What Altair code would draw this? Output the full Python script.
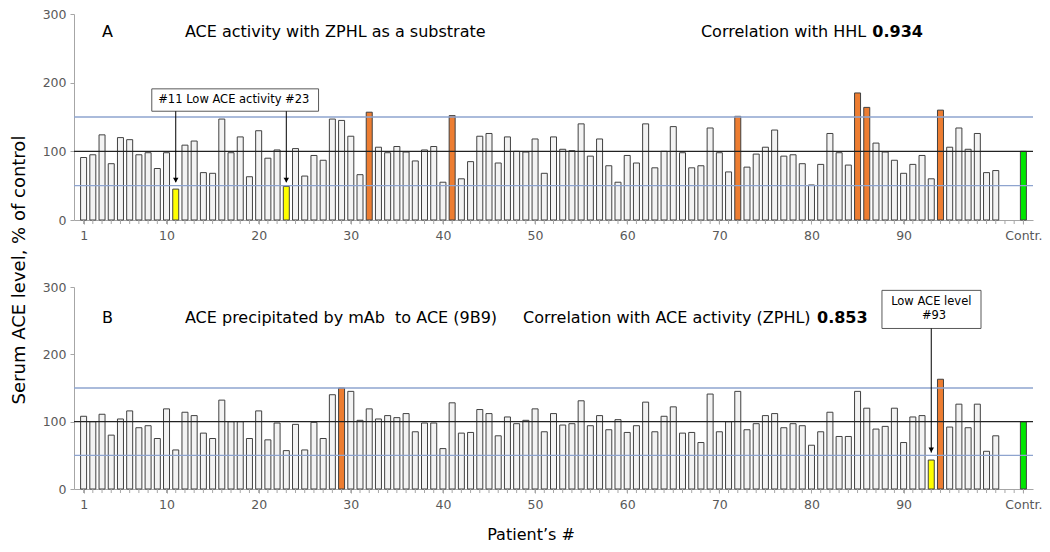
import altair as alt
import pandas as pd

FONT = "DejaVu Sans"

# ---------------- data ----------------
positions = list(range(1, 101)) + [103]          # 100 patients + control
tick_positions = list(range(1, 104))
label_positions = [1, 10, 20, 30, 40, 50, 60, 70, 80, 90, 103]

ace_zphl = [91, 95, 124, 82, 120, 117, 95, 98, 75, 98,
            45, 109, 115, 69, 68, 147, 98, 121, 63, 130,
            90, 102, 49, 104, 64, 94, 87, 147, 145, 122,
            66, 157, 106, 98, 107, 99, 86, 102, 107, 55,
            152, 60, 85, 122, 126, 83, 121, 100, 99, 118,
            68, 121, 103, 101, 140, 93, 118, 79, 55, 94,
            83, 140, 76, 100, 136, 98, 76, 79, 134, 98,
            70, 151, 77, 96, 106, 131, 93, 95, 82, 51,
            81, 126, 98, 80, 185, 164, 112, 99, 87, 68,
            81, 94, 60, 160, 106, 134, 103, 126, 69, 72,
            100]
ace_mab = [108, 100, 111, 80, 104, 116, 91, 94, 75, 119,
           58, 114, 109, 83, 75, 132, 100, 100, 75, 116,
           73, 98, 57, 96, 58, 99, 75, 140, 150, 145,
           102, 119, 104, 109, 106, 112, 85, 98, 98, 60,
           128, 83, 84, 118, 112, 79, 107, 97, 102, 119,
           85, 112, 95, 97, 131, 94, 109, 88, 103, 84,
           94, 129, 85, 108, 122, 83, 84, 69, 141, 85,
           100, 145, 88, 97, 109, 112, 91, 97, 94, 65,
           85, 114, 78, 78, 145, 120, 89, 93, 120, 69,
           107, 109, 43, 163, 92, 126, 91, 126, 56, 79,
           100]

high_a = [32, 41, 72, 85, 86, 94]
low_a = [11, 23]
high_b = [29, 94]
low_b = [93]

ref_blue = [50, 150]
ref_black = [100]

kinds = ["normal", "high", "low", "control"]
kind_colors = ["#f3f3f3", "#ed7d31", "#ffff00", "#00e600"]

xscale = alt.Scale(domain=[0.5, 103.5], nice=False, zero=False)
yscale = alt.Scale(domain=[0, 300], nice=False)

label_expr = "datum.value == 103 ? 'Contr.' : datum.label"

x_axis = alt.Axis(values=label_positions, labelExpr=label_expr, labelOverlap=False,
                  labelFlush=False, grid=False, tickSize=4, tickColor="#a6a6a6",
                  domainColor="#a6a6a6", labelColor="#595959", labelFont=FONT,
                  labelFontSize=12.5, labelPadding=5, title=None)
y_axis = alt.Axis(values=[0, 50, 100, 150, 200, 250, 300], grid=False, tickSize=4,
                  tickColor="#a6a6a6", domainColor="#a6a6a6", labelColor="#595959",
                  labelFont=FONT, labelFontSize=12.5, labelPadding=4, title=None)


def kinds_for(high, low):
    out = []
    for p in positions:
        if p == 103:
            out.append("control")
        elif p in high:
            out.append("high")
        elif p in low:
            out.append("low")
        else:
            out.append("normal")
    return out


def text_layer(x, y, txt, size=16, weight="normal", align="left", baseline="alphabetic"):
    d = pd.DataFrame({"x": [x], "y": [y], "t": [txt]})
    return alt.Chart(d).mark_text(font=FONT, fontSize=size, fontWeight=weight, align=align,
                                  baseline=baseline, color="#000000").encode(
        x=alt.X("x:Q", scale=xscale, title=None),
        y=alt.Y("y:Q", scale=yscale, title=None),
        text="t:N")


def box_layer(x1, x2, y1, y2):
    d = pd.DataFrame({"x": [x1], "x2": [x2], "y": [y1], "y2": [y2]})
    return alt.Chart(d).mark_rect(fill="white", stroke="#595959", strokeWidth=1).encode(
        x=alt.X("x:Q", scale=xscale, title=None), x2="x2:Q",
        y=alt.Y("y:Q", scale=yscale, title=None), y2="y2:Q")


def arrow_layers(xs, y_from, y_to, y_head):
    d = pd.DataFrame({"x": xs, "y": [y_from] * len(xs), "y2": [y_to] * len(xs),
                      "yh": [y_head] * len(xs)})
    line = alt.Chart(d).mark_rule(color="#000000", strokeWidth=1).encode(
        x=alt.X("x:Q", scale=xscale, title=None),
        y=alt.Y("y:Q", scale=yscale, title=None), y2="y2:Q")
    head = alt.Chart(d).mark_point(shape="triangle-down", filled=True, size=30,
                                   color="#000000", opacity=1).encode(
        x=alt.X("x:Q", scale=xscale, title=None),
        y=alt.Y("yh:Q", scale=yscale, title=None))
    return [line, head]


def base_layers(values, high, low, height):
    df = pd.DataFrame({"pos": positions, "val": values, "kind": kinds_for(high, low)})
    bars = alt.Chart(df).mark_bar(size=6, stroke="#404040", strokeWidth=1).encode(
        x=alt.X("pos:Q", scale=xscale, axis=x_axis),
        y=alt.Y("val:Q", scale=yscale, axis=y_axis),
        color=alt.Color("kind:N", scale=alt.Scale(domain=kinds, range=kind_colors), legend=None))
    ticks = alt.Chart(pd.DataFrame({"pos": tick_positions})).mark_rule(
        color="#a6a6a6", strokeWidth=1).encode(
        x=alt.X("pos:Q", scale=xscale, title=None),
        y=alt.value(height), y2=alt.value(height + 4))
    blue = alt.Chart(pd.DataFrame({"y": ref_blue})).mark_rule(color="#8ea4cf", strokeWidth=1.3).encode(
        y=alt.Y("y:Q", scale=yscale, title=None))
    black = alt.Chart(pd.DataFrame({"y": ref_black})).mark_rule(color="#222222", strokeWidth=1.2).encode(
        y=alt.Y("y:Q", scale=yscale, title=None))
    return [bars, ticks, blue, black]


# ---------------- panel A ----------------
HA = 206
layers_a = base_layers(ace_zphl, high_a, low_a, HA)
layers_a += [
    text_layer(3.0, 266, "A"),
    text_layer(12.0, 266, "ACE activity with ZPHL as a substrate"),
    text_layer(68.0, 266, "Correlation with HHL"),
    text_layer(86.6, 266, "0.934", weight="bold"),
    box_layer(8.4, 26.5, 158.4, 191),
    text_layer(17.3, 175, "#11 Low ACE activity #23", size=11.5, align="center", baseline="middle"),
]
layers_a += arrow_layers([11, 23], 158.4, 55, 58)
ytitle = alt.Chart(pd.DataFrame({"t": ["Serum ACE level, % of control"]})).mark_text(
    font=FONT, fontSize=18, angle=270, align="center", baseline="middle", color="#000000").encode(
    x=alt.value(-54), y=alt.value(256), text="t:N")
layers_a.append(ytitle)

panel_a = alt.layer(*layers_a).properties(width=959, height=HA)

# ---------------- panel B ----------------
HB = 202
layers_b = base_layers(ace_mab, high_b, low_b, HB)
layers_b += [
    text_layer(3.0, 246, "B"),
    text_layer(12.0, 246, "ACE precipitated by mAb\u00a0 to ACE (9B9)"),
    text_layer(48.7, 246, "Correlation with ACE activity (ZPHL)"),
    text_layer(80.6, 246, "0.853", weight="bold"),
    box_layer(87.65, 98.4, 238.4, 295),
    text_layer(93.0, 277.5, "Low ACE level", size=11.5, align="center", baseline="middle"),
    text_layer(93.3, 256.5, "#93", size=11.5, align="center", baseline="middle"),
]
layers_b += arrow_layers([93], 238.4, 54, 58)
xtitle = alt.Chart(pd.DataFrame({"t": ["Patient\u2019s #"]})).mark_text(
    font=FONT, fontSize=16, align="center", baseline="middle", color="#000000").encode(
    x=alt.value(457), y=alt.value(248), text="t:N")
layers_b.append(xtitle)

panel_b = alt.layer(*layers_b).properties(width=959, height=HB)

chart = alt.vconcat(panel_a, panel_b, spacing=67, bounds="flush").properties(
    padding={"left": 2, "top": 0, "right": 0, "bottom": 0}
).configure_view(stroke=None).resolve_scale(color="shared")

chart.save("out.html", embed_options={"renderer": "svg", "actions": False})
